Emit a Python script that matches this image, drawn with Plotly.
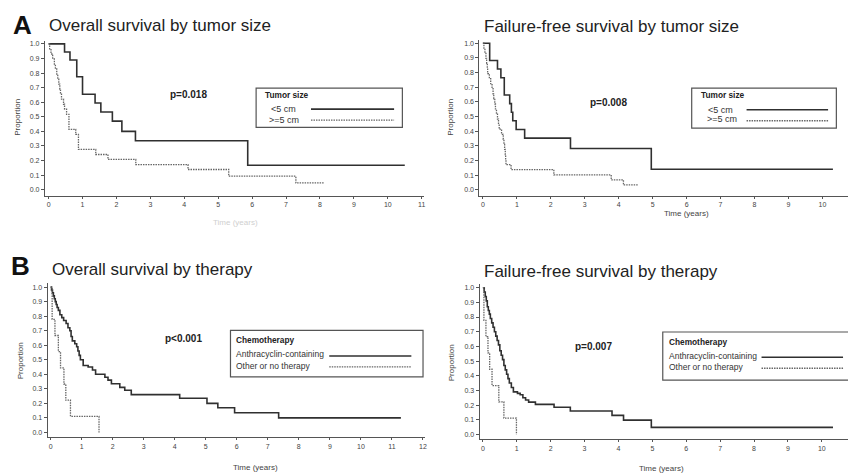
import plotly.graph_objects as go

W, H = 856, 473
OFF = 8  # default page body margin of the browser

# ---------------- data ----------------
# A left: overall survival by tumor size
os_small_t = [0, 0.47, 0.63, 0.83, 1.0, 1.37, 1.54, 1.88, 2.16, 2.56, 5.87, 10.5]
os_small_s = [1.0, 0.945, 0.89, 0.775, 0.655, 0.595, 0.533, 0.47, 0.40, 0.335, 0.167, 0.167]
os_large_t = [0, 0.03, 0.07, 0.12, 0.17, 0.20, 0.24, 0.27, 0.30, 0.33, 0.35, 0.38, 0.44, 0.47,
              0.53, 0.60, 0.80, 0.88, 1.39, 1.75, 2.57, 4.11, 5.31, 7.29, 8.13]
os_large_s = [1.0, 0.966, 0.931, 0.897, 0.862, 0.828, 0.793, 0.759, 0.724, 0.690, 0.655, 0.621,
              0.586, 0.552, 0.517, 0.414, 0.379, 0.276, 0.241, 0.207, 0.172, 0.138, 0.092, 0.046, 0.046]
# A right: failure-free survival by tumor size
ffs_small_t = [0, 0.20, 0.43, 0.53, 0.63, 0.79, 0.84, 0.88, 0.98, 1.23, 2.58, 4.96, 10.31]
ffs_small_s = [1.0, 0.882, 0.824, 0.765, 0.647, 0.588, 0.529, 0.471, 0.412, 0.353, 0.282, 0.141, 0.141]
ffs_large_t = [0, 0.03, 0.06, 0.09, 0.11, 0.13, 0.14, 0.19, 0.23, 0.27, 0.30, 0.32, 0.35, 0.37,
               0.40, 0.43, 0.46, 0.48, 0.55, 0.60, 0.62, 0.64, 0.66, 0.67, 0.68, 0.83, 2.09,
               3.78, 4.14, 4.56]
ffs_large_s = [1.0, 0.966, 0.931, 0.897, 0.862, 0.828, 0.793, 0.759, 0.724, 0.690, 0.655, 0.621,
               0.586, 0.552, 0.517, 0.483, 0.448, 0.414, 0.379, 0.345, 0.310, 0.276, 0.241,
               0.207, 0.172, 0.138, 0.103, 0.069, 0.034, 0.034]
# B left: overall survival by therapy
os_anth_t = [0, 0.03, 0.06, 0.09, 0.12, 0.15, 0.18, 0.21, 0.25, 0.30, 0.36, 0.42, 0.50, 0.56,
             0.62, 0.66, 0.70, 0.78, 0.84, 0.88, 0.92, 0.96, 1.05, 1.21, 1.35, 1.45, 1.75, 1.85,
             1.96, 2.23, 2.39, 2.60, 4.16, 5.04, 5.39, 5.93, 7.35, 11.29]
os_anth_s = [1.0, 0.98, 0.96, 0.94, 0.92, 0.90, 0.88, 0.86, 0.84, 0.81, 0.79, 0.77, 0.75, 0.72,
             0.70, 0.66, 0.63, 0.61, 0.59, 0.56, 0.53, 0.50, 0.46, 0.45, 0.43, 0.40, 0.38, 0.36,
             0.335, 0.31, 0.29, 0.26, 0.235, 0.20, 0.17, 0.135, 0.10, 0.10]
os_other_t = [0, 0.05, 0.14, 0.25, 0.32, 0.43, 0.49, 0.64, 1.56]
os_other_s = [1.0, 0.778, 0.667, 0.556, 0.444, 0.333, 0.222, 0.111, 0.0]
# B right: failure-free survival by therapy
ffs_anth_t = [0, 0.04, 0.07, 0.10, 0.13, 0.16, 0.19, 0.22, 0.26, 0.30, 0.34, 0.38, 0.42, 0.46,
              0.50, 0.54, 0.58, 0.62, 0.66, 0.70, 0.74, 0.78, 0.84, 0.90, 1.02, 1.10, 1.18,
              1.26, 1.35, 1.55, 2.10, 2.58, 3.81, 4.15, 4.97, 10.33]
ffs_anth_s = [1.0, 0.97, 0.94, 0.91, 0.87, 0.845, 0.82, 0.79, 0.76, 0.73, 0.70, 0.67, 0.64, 0.61,
              0.57, 0.54, 0.51, 0.47, 0.44, 0.41, 0.38, 0.35, 0.32, 0.29, 0.28, 0.27, 0.25,
              0.235, 0.22, 0.205, 0.185, 0.16, 0.13, 0.097, 0.048, 0.048]
ffs_other_t = [0, 0.03, 0.09, 0.15, 0.20, 0.27, 0.47, 0.62, 0.99]
ffs_other_s = [1.0, 0.778, 0.667, 0.556, 0.444, 0.333, 0.222, 0.111, 0.0]

titles = ["Overall survival by tumor size", "Failure-free survival by tumor size",
          "Overall survival by therapy", "Failure-free survival by therapy"]
pvalues = ["p=0.018", "p=0.008", "p<0.001", "p=0.007"]
legend_titles = ["Tumor size", "Tumor size", "Chemotherapy", "Chemotherapy"]
legend_labels = [["<5 cm", ">=5 cm"], ["<5 cm", ">=5 cm"],
                 ["Anthracyclin-containing", "Other or no therapy"],
                 ["Anthracyclin-containing", "Other or no therapy"]]
x_max_ticks = [11, 11, 12, 11]
y_ticks = [round(0.1 * i, 1) for i in range(11)]

series = [
    (os_small_t, os_small_s, os_large_t, os_large_s),
    (ffs_small_t, ffs_small_s, ffs_large_t, ffs_large_s),
    (os_anth_t, os_anth_s, os_other_t, os_other_s),
    (ffs_anth_t, ffs_anth_s, ffs_other_t, ffs_other_s),
]

# ---------------- layout geometry (target pixels in the window) ----------------
panels = [
    dict(xd=(45, 425), yd=(40, 195), x0=48.7, ppx=34.0, yv0=189.0, yv1=43.0,
         title=(47, 25), tx=(236, 222), prop=(18, 116), p=(189, 94),
         box=(256.7, 87.3, 403.3, 126.7), lt=(264, 94), l1=(270, 108.5), l2=(268, 119),
         lx=(311.7, 395), ly=(108.3, 119.3), tcol="#cfcfcf"),
    dict(xd=(480.5, 864), yd=(39, 195), x0=484.0, ppx=34.03, yv0=189.3, yv1=42.3,
         title=(483, 26), tx=(688, 212.5), prop=(452, 116), p=(610, 101.5),
         box=(693.3, 87.3, 838.3, 127.3), lt=(701, 94), l1=(708, 109), l2=(707, 118.5),
         lx=(748.3, 830), ly=(109, 120), tcol="#444444"),
    dict(xd=(47.7, 426), yd=(283, 437.3), x0=50.7, ppx=31.1, yv0=432.3, yv1=286.7,
         title=(50, 269), tx=(256, 467), prop=(20, 360), p=(184, 338.5),
         box=(231, 330, 424, 376.7), lt=(235, 339.5), l1=(235, 354), l2=(235, 365.7),
         lx=(330, 412.3), ly=(355.7, 366.7), tcol="#444444"),
    dict(xd=(480.7, 864), yd=(284, 439.3), x0=484.0, ppx=33.97, yv0=434.3, yv1=287.3,
         title=(483, 271), tx=(663, 468), prop=(452, 362), p=(595, 346),
         box=(664.3, 331.7, 870, 380), lt=(668.3, 341.7), l1=(668.3, 356), l2=(668.3, 366.7),
         lx=(763.3, 845), ly=(357, 368), tcol="#444444"),
]

FONT = "Liberation Sans, Arial, Helvetica, sans-serif"
SOLID_COL = "#303030"
DOT_COL = "#666666"
DOT_DASH = "1.5px,1px"
AXIS_COL = "#555555"


def px(x):
    return min(1.0, max(0.0, (x - OFF) / W))


def py(y):
    return min(1.0, max(0.0, 1 - (y - OFF) / H))


fig = go.Figure()
layout = dict(width=W, height=H, margin=dict(l=0, r=0, t=0, b=0),
              paper_bgcolor="white", plot_bgcolor="white", showlegend=False,
              font=dict(family=FONT, color="#333"))
annotations = []
shapes = []

for i, (pn, (ta, sa, tb, sb)) in enumerate(zip(panels, series)):
    k = "" if i == 0 else str(i + 1)
    xa, ya = "x" + k, "y" + k
    d0, d1 = px(pn["xd"][0]), px(pn["xd"][1])
    # data range corresponding to the (possibly clipped) domain
    xr = [((d0 * W + OFF) - pn["x0"]) / pn["ppx"], ((d1 * W + OFF) - pn["x0"]) / pn["ppx"]]
    span = pn["yv0"] - pn["yv1"]
    yr = [(pn["yv0"] - pn["yd"][1]) / span, (pn["yv0"] - pn["yd"][0]) / span]

    fig.add_trace(go.Scatter(x=ta, y=sa, mode="lines", line_shape="hv",
                             line=dict(color=SOLID_COL, width=1.6), xaxis=xa, yaxis=ya,
                             hoverinfo="skip"))
    fig.add_trace(go.Scatter(x=tb, y=sb, mode="lines", line_shape="hv",
                             line=dict(color=DOT_COL, width=1.3, dash=DOT_DASH), xaxis=xa,
                             yaxis=ya, hoverinfo="skip"))

    layout["xaxis" + k] = dict(domain=[d0, d1], range=xr,
                               anchor=ya, tickvals=list(range(0, x_max_ticks[i] + 1)),
                               showgrid=False, zeroline=False, showline=True, linecolor=AXIS_COL,
                               linewidth=1, ticks="outside", ticklen=2, tickcolor=AXIS_COL,
                               tickfont=dict(size=7, color="#444"), fixedrange=True)
    layout["yaxis" + k] = dict(domain=[py(pn["yd"][1]), py(pn["yd"][0])], range=yr,
                               anchor=xa, tickvals=y_ticks, tickformat=".1f",
                               showgrid=False, zeroline=False, showline=True, linecolor=AXIS_COL,
                               linewidth=1, ticks="outside", ticklen=3, tickcolor=AXIS_COL,
                               tickfont=dict(size=7, color="#444"), fixedrange=True)

    def ann(text, x, y, size, bold=False, xanchor="left", color="#222", angle=0):
        annotations.append(dict(text=("<b>%s</b>" % text) if bold else text,
                                x=px(x), y=py(y), xref="paper", yref="paper",
                                xanchor=xanchor, yanchor="middle", showarrow=False,
                                textangle=angle, font=dict(size=size, color=color, family=FONT)))

    ann(titles[i], pn["title"][0], pn["title"][1], 17)
    ann("Time (years)", pn["tx"][0], pn["tx"][1], 8, xanchor="center", color=pn["tcol"])
    ann("Proportion", pn["prop"][0], pn["prop"][1], 8, xanchor="center", color="#444", angle=-90)
    ann(pvalues[i], pn["p"][0], pn["p"][1], 10, bold=True, xanchor="center")
    ann(legend_titles[i], pn["lt"][0], pn["lt"][1], 8.3, bold=True)
    lsize = 9 if i < 2 else 8.5
    ann(legend_labels[i][0], pn["l1"][0], pn["l1"][1], lsize, color="#333")
    ann(legend_labels[i][1], pn["l2"][0], pn["l2"][1], lsize, color="#333")

    bx0, by0, bx1, by1 = pn["box"]
    shapes.append(dict(type="rect", xref="paper", yref="paper", x0=px(bx0), x1=px(bx1),
                       y0=py(by1), y1=py(by0), line=dict(color="#555", width=1.2)))
    shapes.append(dict(type="line", xref="paper", yref="paper", x0=px(pn["lx"][0]),
                       x1=px(pn["lx"][1]), y0=py(pn["ly"][0]), y1=py(pn["ly"][0]),
                       line=dict(color=SOLID_COL, width=1.6)))
    shapes.append(dict(type="line", xref="paper", yref="paper", x0=px(pn["lx"][0]),
                       x1=px(pn["lx"][1]), y0=py(pn["ly"][1]), y1=py(pn["ly"][1]),
                       line=dict(color=DOT_COL, width=1.3, dash=DOT_DASH)))

# panel letters
annotations.append(dict(text="<b>A</b>", x=px(11), y=py(24), xref="paper", yref="paper",
                        xanchor="left", yanchor="middle", showarrow=False,
                        font=dict(size=26, color="#111", family=FONT)))
annotations.append(dict(text="<b>B</b>", x=px(9), y=py(266), xref="paper", yref="paper",
                        xanchor="left", yanchor="middle", showarrow=False,
                        font=dict(size=26, color="#111", family=FONT)))

layout["annotations"] = annotations
layout["shapes"] = shapes
fig.update_layout(**layout)
fig.write_html("out.html")
